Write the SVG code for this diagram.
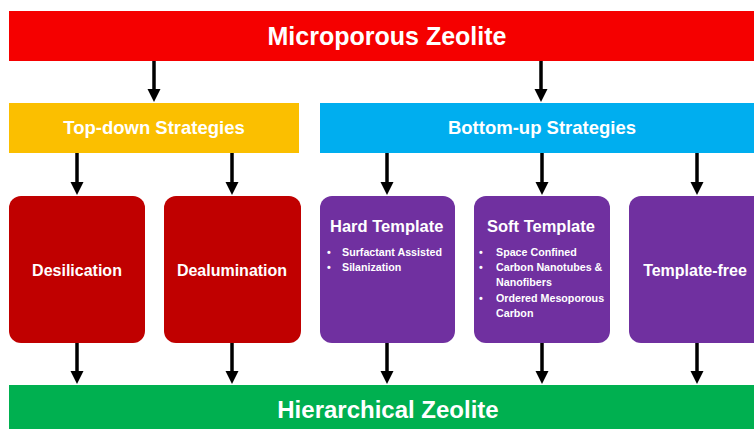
<svg xmlns="http://www.w3.org/2000/svg" width="754" height="429" viewBox="0 0 754 429">
<defs>
<style>
text{font-family:"Liberation Sans",Arial,sans-serif;font-weight:bold;fill:#fff}
.big{font-size:25px}
.big2{font-size:24px}
.mid{font-size:18.5px}
.box{font-size:16px}
.ttl{font-size:16.5px}
.sm{font-size:10.7px}
.conn line{stroke:#000;stroke-width:3.5}
</style>
<marker id="ah" markerUnits="userSpaceOnUse" markerWidth="14" markerHeight="13" refX="5" refY="6.5" orient="auto" overflow="visible">
<path d="M0,0 L13,6.5 L0,13 z" fill="#000"/>
</marker>
</defs>
<rect width="754" height="429" fill="#fff"/>
<g id="microporous">
<rect x="9" y="11" width="745" height="50" fill="#F50000"/>
<text class="big" x="387" y="45" text-anchor="middle">Microporous Zeolite</text>
</g>
<g id="topdown">
<rect x="9" y="103" width="290" height="50" fill="#FBBF00"/>
<text class="mid" x="154" y="134" text-anchor="middle">Top-down Strategies</text>
</g>
<g id="bottomup">
<rect x="320" y="103" width="434" height="50" fill="#00AEEF"/>
<text class="mid" x="542" y="134" text-anchor="middle">Bottom-up Strategies</text>
</g>
<g id="desilication">
<rect x="9" y="196" width="136" height="147" rx="12" fill="#C00000"/>
<text class="box" x="77" y="276" text-anchor="middle">Desilication</text>
</g>
<g id="dealumination">
<rect x="164" y="196" width="137" height="147" rx="12" fill="#C00000"/>
<text class="box" x="232" y="276" text-anchor="middle">Dealumination</text>
</g>
<g id="hard">
<rect x="320" y="196" width="135" height="147" rx="12" fill="#7030A0"/>
<text class="ttl" x="330" y="232">Hard Template</text>
<text class="sm" x="327" y="256">•</text>
<text class="sm" x="342" y="256">Surfactant Assisted</text>
<text class="sm" x="327" y="271">•</text>
<text class="sm" x="342" y="271">Silanization</text>
</g>
<g id="soft">
<rect x="474" y="196" width="136" height="147" rx="12" fill="#7030A0"/>
<text class="ttl" x="487" y="232">Soft Template</text>
<text class="sm" x="479" y="256">•</text>
<text class="sm" x="496" y="256">Space Confined</text>
<text class="sm" x="479" y="271">•</text>
<text class="sm" x="496" y="271">Carbon Nanotubes &amp;</text>
<text class="sm" x="496" y="286">Nanofibers</text>
<text class="sm" x="479" y="302">•</text>
<text class="sm" x="496" y="302">Ordered Mesoporous</text>
<text class="sm" x="496" y="317">Carbon</text>
</g>
<g id="templatefree">
<rect x="629" y="196" width="140" height="147" rx="12" fill="#7030A0"/>
<text class="box" x="695" y="276" text-anchor="middle">Template-free</text>
</g>
<g id="hierarchical">
<rect x="9" y="385" width="745" height="50" fill="#00B050"/>
<text class="big2" x="388" y="418" text-anchor="middle">Hierarchical Zeolite</text>
</g>
<g class="conn" id="connectors">
<line x1="154" y1="61" x2="154" y2="94" marker-end="url(#ah)"/>
<line x1="541" y1="61" x2="541" y2="94" marker-end="url(#ah)"/>
<line x1="77" y1="153" x2="77" y2="187" marker-end="url(#ah)"/>
<line x1="232" y1="153" x2="232" y2="187" marker-end="url(#ah)"/>
<line x1="387" y1="153" x2="387" y2="187" marker-end="url(#ah)"/>
<line x1="542" y1="153" x2="542" y2="187" marker-end="url(#ah)"/>
<line x1="697" y1="153" x2="697" y2="187" marker-end="url(#ah)"/>
<line x1="77" y1="343" x2="77" y2="376" marker-end="url(#ah)"/>
<line x1="232" y1="343" x2="232" y2="376" marker-end="url(#ah)"/>
<line x1="387" y1="343" x2="387" y2="376" marker-end="url(#ah)"/>
<line x1="542" y1="343" x2="542" y2="376" marker-end="url(#ah)"/>
<line x1="697" y1="343" x2="697" y2="376" marker-end="url(#ah)"/>
</g>
</svg>
